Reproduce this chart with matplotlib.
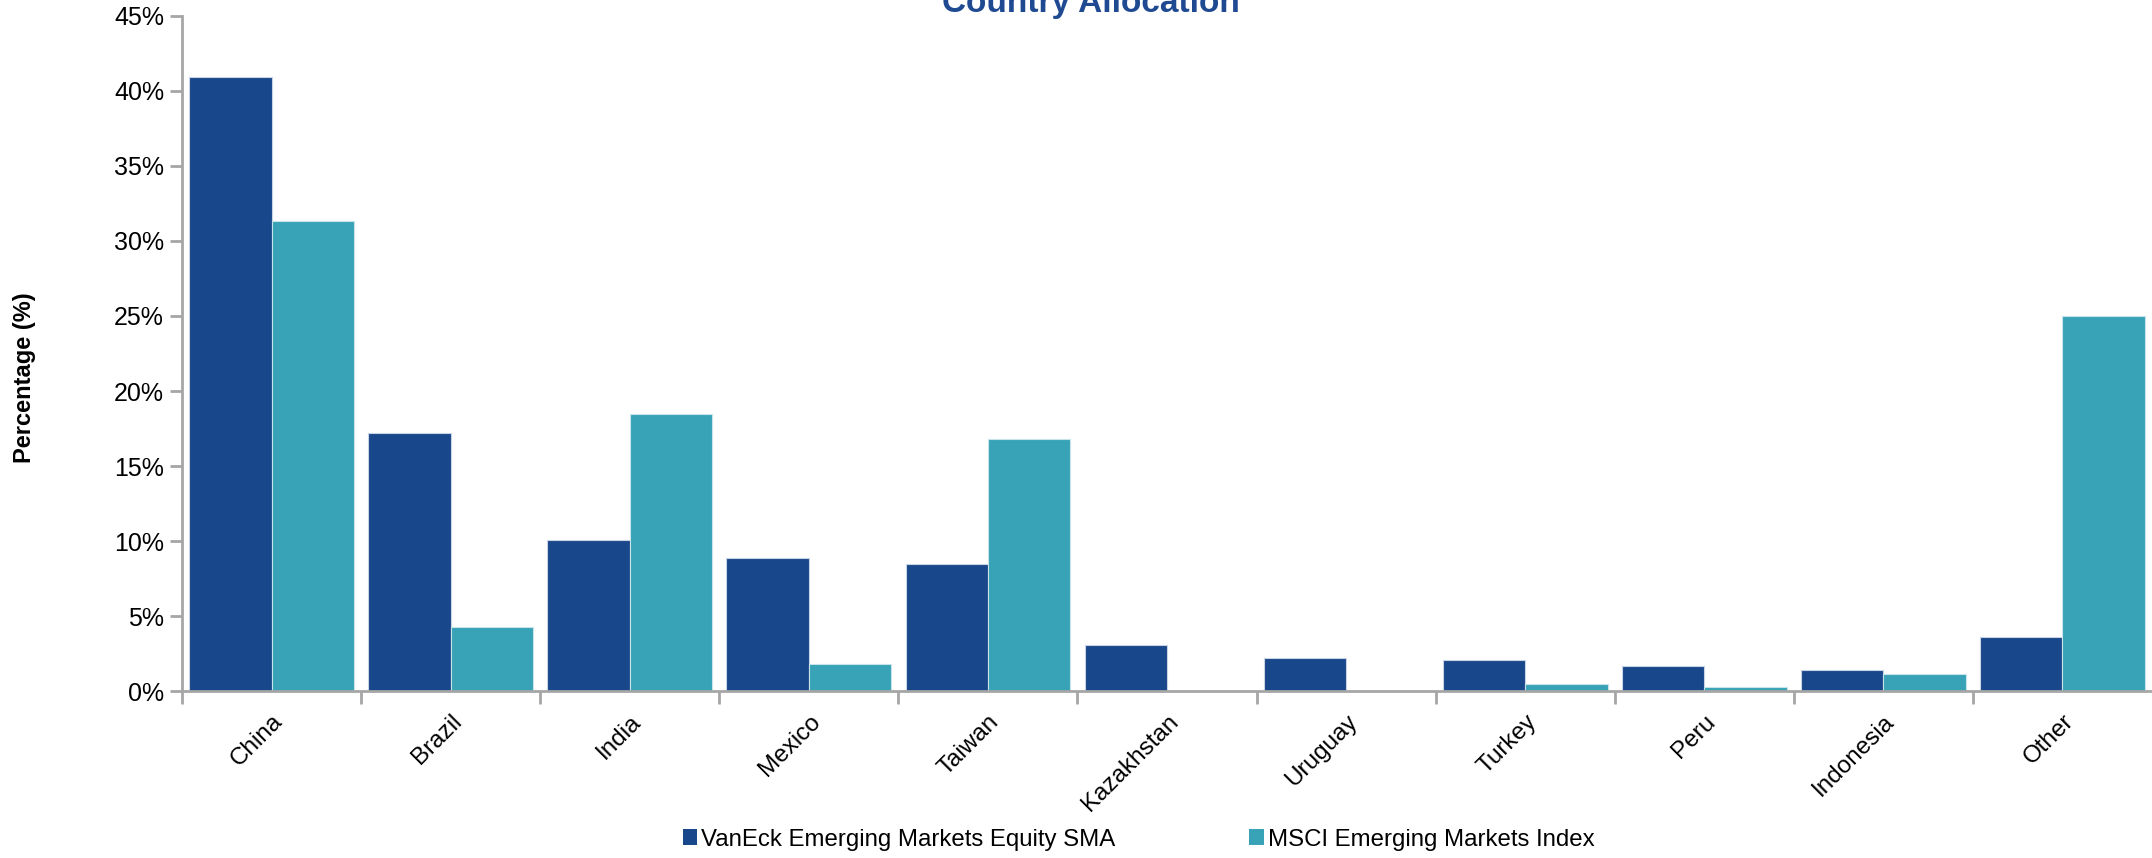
import numpy as np
import matplotlib
matplotlib.use("Agg")
import matplotlib.pyplot as plt
from matplotlib.patches import Patch

plt.rcParams['font.family'] = ['Liberation Sans', 'DejaVu Sans']

countries = ['China', 'Brazil', 'India', 'Mexico', 'Taiwan', 'Kazakhstan',
             'Uruguay', 'Turkey', 'Peru', 'Indonesia', 'Other']
vaneck = [40.9, 17.2, 10.1, 8.9, 8.5, 3.1, 2.2, 2.1, 1.7, 1.4, 3.6]
msci = [31.3, 4.3, 18.5, 1.8, 16.8, 0.0, 0.0, 0.5, 0.25, 1.15, 25.0]
series_names = ['VanEck Emerging Markets Equity SMA', 'MSCI Emerging Markets Index']

dark = '#19478C'
teal = '#38A3B7'
axis_grey = '#A6A6A6'

fig = plt.figure(figsize=(21.52, 8.58), dpi=100)
ax = fig.add_axes([0.0846, 0.1946, 0.9154, 0.7868])

x = np.arange(len(countries))
w = 0.46
ax.bar(x - w / 2, vaneck, w, color=dark, edgecolor='#C8D3E3', linewidth=0.8)
ax.bar(x + w / 2, msci, w, color=teal, edgecolor='#C8E4EA', linewidth=0.8)

ax.set_xlim(-0.5, len(countries) - 0.5)
ax.set_ylim(0, 45)
ax.set_yticks(np.arange(0, 46, 5))
ax.set_yticklabels(['%d%%' % v for v in range(0, 46, 5)], fontsize=18)

# boundary ticks between categories, names on the centers
ax.set_xticks(np.arange(-0.5, len(countries) - 0.5, 1.0))
ax.set_xticklabels([])
ax.set_xticks(x, minor=True)
ax.set_xticklabels(countries, minor=True, rotation=45, ha='right',
                   rotation_mode='anchor', fontsize=17.5)
ax.tick_params(axis='x', which='major', length=9, width=2, color=axis_grey, direction='out')
ax.tick_params(axis='x', which='minor', length=0, pad=14)
ax.tick_params(axis='y', length=9, width=2, color=axis_grey, pad=4)

for s in ['top', 'right']:
    ax.spines[s].set_visible(False)
for s in ['left', 'bottom']:
    ax.spines[s].set_color(axis_grey)
    ax.spines[s].set_linewidth(2)

fig.text(0.0116, 0.56, 'Percentage (%)', rotation=90, fontsize=17,
         fontweight='bold', ha='center', va='center')
fig.text(0.507, 0.996, 'Country Allocation', fontsize=24, fontweight='bold',
         color='#1F4A92', ha='center', va='center')

handles = [Patch(facecolor=dark), Patch(facecolor=teal)]
fig.legend(handles, series_names, loc='center', bbox_to_anchor=(0.529, 0.0215),
           ncol=2, frameon=False, fontsize=17.3, handlelength=0.6, handleheight=0.6,
           handletextpad=0.15, columnspacing=5.6)

fig.savefig('out.png', dpi=100)
